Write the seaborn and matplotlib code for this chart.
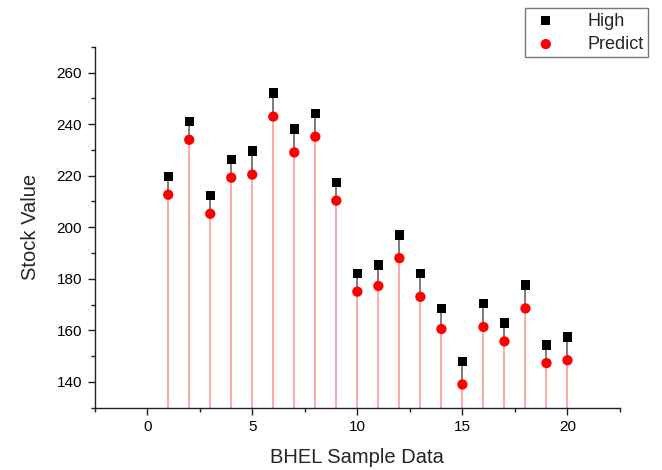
import matplotlib
matplotlib.use("Agg")
import matplotlib.pyplot as plt
from matplotlib.ticker import MultipleLocator
import seaborn as sns
import pandas as pd

# sample index and stock values
sample = list(range(1, 21))
high = [219.7, 240.9, 212.2, 226.3, 229.6, 252.0, 238.1, 244.2, 217.3, 182.1,
        185.3, 197.0, 182.0, 168.5, 147.9, 170.3, 162.8, 177.6, 154.3, 157.4]
predict = [212.6, 233.9, 205.2, 219.2, 220.4, 242.9, 229.0, 235.1, 210.3, 175.0,
           177.2, 188.0, 173.0, 160.5, 139.0, 161.3, 155.7, 168.5, 147.3, 148.4]

df = pd.DataFrame({'sample': sample, 'High': high, 'Predict': predict})

sns.set_theme(style='ticks')
plt.rcParams['font.family'] = ['Liberation Sans', 'DejaVu Sans']

fig = plt.figure(figsize=(6.62, 4.70), dpi=100)
ax = fig.add_axes([0.143, 0.1326, 0.7936, 0.768])

ymin, ymax = 130, 270
# drop lines: grey between Predict and High, light red from the floor to Predict
ax.vlines(df['sample'], df['Predict'], df['High'], color='#666666', linewidth=1.2, zorder=1)
ax.vlines(df['sample'], ymin, df['Predict'], color='#ffa0a0', linewidth=1.3, zorder=2)

sns.scatterplot(data=df, x='sample', y='High', marker='s', color='black',
                s=45, edgecolor='none', label='High', ax=ax, zorder=3, legend=False)
sns.scatterplot(data=df, x='sample', y='Predict', marker='o', color='red',
                s=55, edgecolor='none', label='Predict', ax=ax, zorder=3, legend=False)

ax.set_xlim(-2.5, 22.5)
ax.set_ylim(ymin, ymax)
ax.xaxis.set_major_locator(MultipleLocator(5))
ax.xaxis.set_minor_locator(MultipleLocator(2.5))
ax.yaxis.set_minor_locator(MultipleLocator(10))
ax.set_yticks([140, 160, 180, 200, 220, 240, 260])

for s in ['top', 'right']:
    ax.spines[s].set_visible(False)
for s in ['left', 'bottom']:
    ax.spines[s].set_color('#222222')
    ax.spines[s].set_linewidth(1.0)

ax.tick_params(axis='both', which='major', direction='out', length=5, width=1,
               color='#222222', labelsize=11, labelcolor='black', pad=4)
ax.tick_params(axis='both', which='minor', direction='out', length=3, width=1,
               color='#222222')

ax.set_xlabel('BHEL Sample Data', fontsize=14.5, labelpad=10)
ax.set_ylabel('Stock Value', fontsize=14.5, labelpad=12)

handles, labels = ax.get_legend_handles_labels()
leg = fig.legend(handles, labels, loc='upper left',
                 bbox_to_anchor=(525 / 662, 1 - 8 / 470), borderaxespad=0,
                 fontsize=13, fancybox=False, framealpha=1, edgecolor='#777777',
                 handletextpad=1.4, labelspacing=0.35, borderpad=0.25,
                 handlelength=1.8)
leg.get_frame().set_linewidth(1.0)

plt.savefig('out.png', dpi=100)
